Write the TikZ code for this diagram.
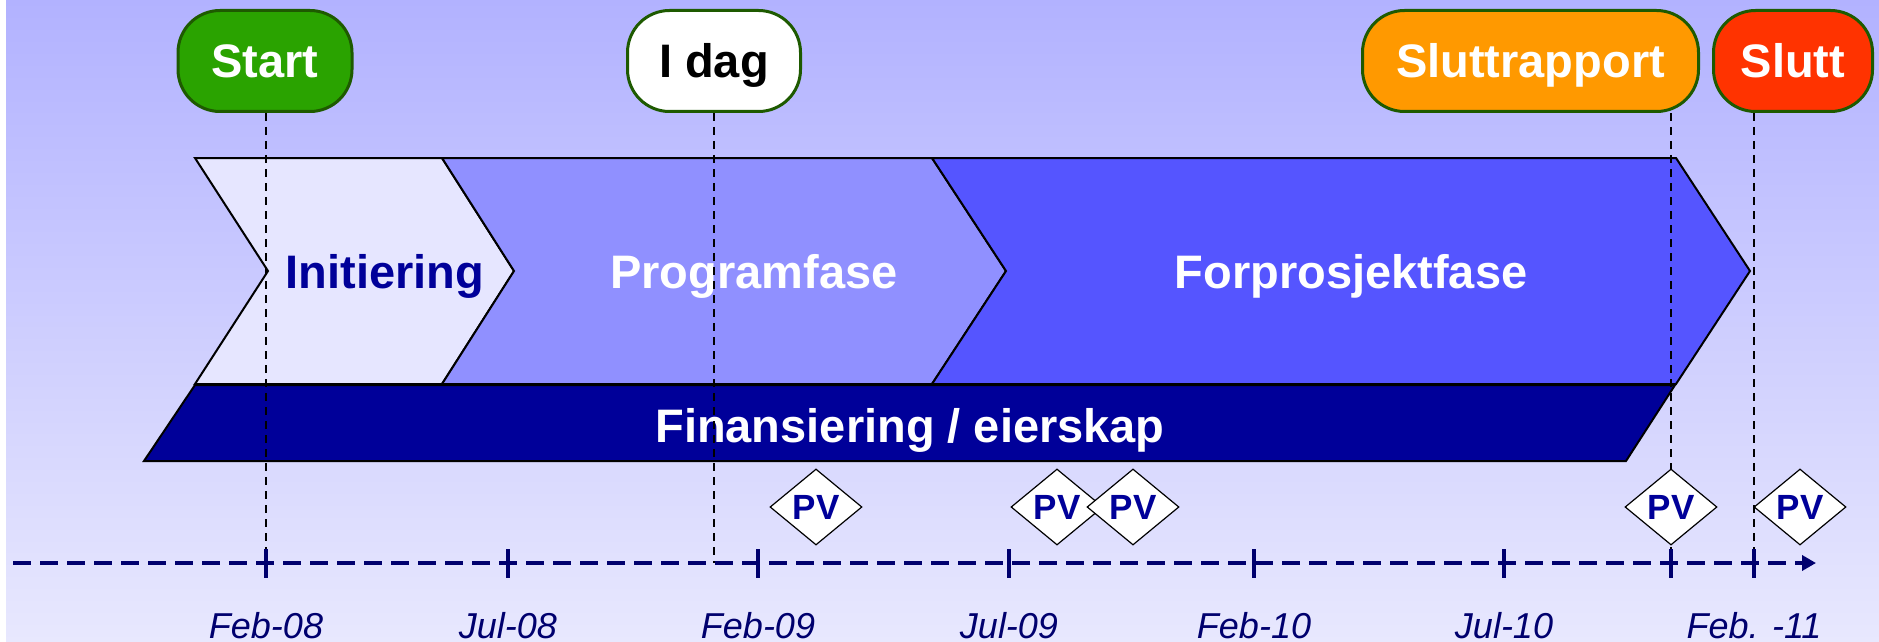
\documentclass[tikz,border=0pt]{standalone}
\usepackage{fontspec}
\setmainfont{Liberation Sans}
\usetikzlibrary{shapes.geometric,arrows.meta}

\definecolor{bgtop}{RGB}{178,178,255}
\definecolor{bgbot}{RGB}{232,232,254}
\definecolor{initfill}{RGB}{230,230,255}
\definecolor{progfill}{RGB}{144,144,255}
\definecolor{forpfill}{RGB}{85,85,255}
\definecolor{finfill}{RGB}{0,0,153}
\definecolor{navytext}{RGB}{0,0,153}
\definecolor{axisblue}{RGB}{0,0,110}
\definecolor{msgreen}{RGB}{42,163,0}
\definecolor{msborder}{RGB}{30,90,0}
\definecolor{msorange}{RGB}{255,153,0}
\definecolor{msred}{RGB}{255,51,0}

\begin{document}
\begin{tikzpicture}[x=0.5pt,y=-0.5pt]

    \useasboundingbox (0,0) rectangle (1879,642);
    \fill[white] (0,0) rectangle (6,642);
    \fill[top color=bgtop,bottom color=bgbot] (6,0) rectangle (1879,642);

    \begin{scope}[draw=black,line width=1pt]
        \draw[fill=initfill] (195,158) -- (442,158) -- (514,271) -- (442,384) -- (195,384) -- (268,271) -- cycle;
        \draw[fill=progfill] (442,158) -- (932,158) -- (1006,271) -- (932,384) -- (442,384) -- (514,271) -- cycle;
        \draw[fill=forpfill] (932,158) -- (1676,158) -- (1750,271) -- (1676,384) -- (932,384) -- (1006,271) -- cycle;
        \draw[fill=finfill] (195,385) -- (1675,385) -- (1626,461) -- (144,461) -- cycle;
    \end{scope}

    \begin{scope}[every node/.style={font=\bfseries\fontsize{23.5}{28}\selectfont,anchor=base}]
        \node[text=navytext] (initiering) at (385,288) {Initiering};
        \node[text=white] (programfase) at (754,288) {Programfase};
        \node[text=white] (forprosjekt) at (1351,288) {Forprosjektfase};
        \node[text=white] (finansiering) at (910,442) {Finansiering / eierskap};
    \end{scope}

    \coordinate (tfeb08) at (266,563);
    \coordinate (tjul08) at (508,563);
    \coordinate (tfeb09) at (758,563);
    \coordinate (tjul09) at (1009,563);
    \coordinate (tfeb10) at (1254,563);
    \coordinate (tjul10) at (1504,563);
    \coordinate (trapport) at (1671,563);
    \coordinate (tslutt) at (1754,563);
    \coordinate (axstart) at (13,563);
    \coordinate (axend) at (1816,563);
    \coordinate (base) at (0,638);

    \begin{scope}[every node/.style={rounded corners=21pt,draw=msborder,line width=1.5pt,minimum height=50.5pt,inner sep=0pt,text height=16.8pt,text depth=0pt,font=\bfseries\fontsize{23.5}{28}\selectfont}]
        \node[fill=msgreen,text=white,minimum width=87pt] (start) at (265,61) {Start};
        \node[fill=white,text=black,minimum width=86.5pt] (idag) at (714,61) {I dag};
        \node[fill=msorange,text=white,minimum width=168pt] (sluttrapport) at (1530.5,61) {Sluttrapport};
        \node[fill=msred,text=white,minimum width=79.5pt] (slutt) at (1793,61) {Slutt};
    \end{scope}

    \begin{scope}[draw=black,line width=0.6pt,dash pattern=on 4pt off 3pt]
        \draw (tfeb08 |- start.south) -- (tfeb08);
        \draw (idag.south) -- (idag.south |- tfeb09);
        \draw (trapport |- sluttrapport.south) -- (trapport);
        \draw (tslutt |- slutt.south) -- (tslutt);
    \end{scope}

    \draw[axisblue,line width=2pt,dash pattern=on 9pt off 4.5pt,-{Triangle[length=7pt,width=7.5pt]}] (axstart) -- (axend);
    \foreach \t in {tfeb08,tjul08,tfeb09,tjul09,tfeb10,tjul10,trapport,tslutt}
        \draw[axisblue,line width=1.75pt] (\t) ++(0,-14) -- ++(0,29);

    \begin{scope}[every node/.style={diamond,draw=black,fill=white,line width=0.6pt,minimum width=46pt,minimum height=38pt,inner sep=0pt,text=navytext,font=\bfseries\fontsize{17.5}{20}\selectfont}]
        \node (pv1) at (816,507) {PV};
        \node (pv2) at (1057,507) {PV};
        \node (pv3) at (1133,507) {PV};
        \node (pv4) at (trapport |- 0,507) {PV};
        \node (pv5) at (1800,507) {PV};
    \end{scope}

    \begin{scope}[every node/.style={anchor=base,text=axisblue,font=\itshape\fontsize{18}{22}\selectfont}]
        \node (lfeb08) at (tfeb08 |- base) {Feb-08};
        \node (ljul08) at (tjul08 |- base) {Jul-08};
        \node (lfeb09) at (tfeb09 |- base) {Feb-09};
        \node (ljul09) at (tjul09 |- base) {Jul-09};
        \node (lfeb10) at (tfeb10 |- base) {Feb-10};
        \node (ljul10) at (tjul10 |- base) {Jul-10};
        \node (lslutt) at (tslutt |- base) {Feb. -11};
    \end{scope}

\end{tikzpicture}
\end{document}
